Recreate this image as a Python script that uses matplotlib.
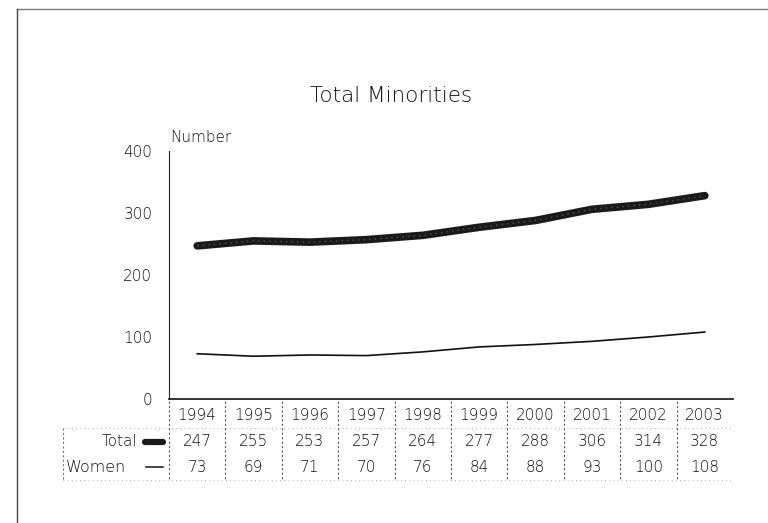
import matplotlib
matplotlib.use("Agg")
from matplotlib import pyplot as plt
from matplotlib.lines import Line2D
from matplotlib.transforms import blended_transform_factory
import numpy as np

years = ["1994", "1995", "1996", "1997", "1998", "1999", "2000", "2001", "2002", "2003"]
total = [247, 255, 253, 257, 264, 277, 288, 306, 314, 328]
women = [73, 69, 71, 70, 76, 84, 88, 93, 100, 108]

plt.rcParams['font.family'] = ['DejaVu Sans']
plt.rcParams['font.weight'] = 'light'
txt = "#111111"

W, H = 768, 523
fig = plt.figure(figsize=(W / 100, H / 100), dpi=100)
ax = fig.add_axes([169 / W, 1 - 399 / H, (733 - 169) / W, (399 - 151) / H])

x = np.arange(len(years))
# thick total line (dark edge, speckled core) and thin women line
ax.plot(x, total, color="#1a1a1a", lw=5.5, solid_capstyle="round")
ax.plot(x, total, color="#555555", lw=1.0, ls=(0, (1, 3)))
ax.plot(x, women, color="#111111", lw=1.2)

ax.set_xlim(-0.5, len(years) - 0.5)
ax.set_ylim(0, 400)
ax.set_yticks([0, 100, 200, 300, 400])
ax.tick_params(axis="y", length=0, pad=12, labelsize=11, colors=txt)
ax.set_xticks([])
for s in ["top", "right"]:
    ax.spines[s].set_visible(False)
ax.spines["left"].set_color("#222222")
ax.spines["bottom"].set_color("#222222")
ax.spines["bottom"].set_linewidth(1.3)

fig.text(391 / W, 1 - 96 / H, "Total Minorities", ha="center", va="center",
         fontsize=15.5, color=txt)
fig.text(170 / W, 1 - 137 / H, "Number", ha="left", va="center",
         fontsize=11, color=txt)

# data table under the axis
tr = blended_transform_factory(ax.transData, fig.transFigure)
y_head, y_tot, y_wom = 1 - 415 / H, 1 - 442 / H, 1 - 467 / H
for i, yr in enumerate(years):
    fig.text(i, y_head, yr, transform=tr, ha="center", va="center", fontsize=11, color=txt)
    fig.text(i, y_tot, str(total[i]), transform=tr, ha="center", va="center", fontsize=11, color=txt)
    fig.text(i, y_wom, str(women[i]), transform=tr, ha="center", va="center", fontsize=11, color=txt)

fig.text(137 / W, y_tot, "Total", ha="right", va="center", fontsize=11, color=txt)
fig.text(66 / W, y_wom, "Women", ha="left", va="center", fontsize=11.5, color=txt)
fig.add_artist(Line2D([145 / W, 163 / W], [y_tot, y_tot], transform=fig.transFigure,
                      color="#1a1a1a", lw=4.5, solid_capstyle="round"))
fig.add_artist(Line2D([146 / W, 163 / W], [y_wom, y_wom], transform=fig.transFigure,
                      color="#111111", lw=1.1))

# table grid lines
y_top, y_bot, y_sep = 1 - 401 / H, 1 - 480 / H, 1 - 428 / H
for i in range(len(years)):
    fig.add_artist(Line2D([i - 0.5, i - 0.5], [y_top, y_bot], transform=tr,
                          color="#555555", lw=0.8, ls=(0, (2, 2))))
fig.add_artist(Line2D([63 / W, 63 / W], [y_sep, y_bot], transform=fig.transFigure,
                      color="#777777", lw=0.8, ls=(0, (2, 2))))
fig.add_artist(Line2D([63 / W, 733 / W], [y_sep, y_sep], transform=fig.transFigure,
                      color="#999999", lw=0.6, ls=(0, (1, 4))))
fig.add_artist(Line2D([63 / W, 733 / W], [y_bot, y_bot], transform=fig.transFigure,
                      color="#999999", lw=0.6, ls=(0, (1, 4))))

# outer frame (scanned page edge)
fig.add_artist(Line2D([17 / W, 768 / W], [1 - 9 / H, 1 - 9 / H], transform=fig.transFigure,
                      color="#777777", lw=1.0))
fig.add_artist(Line2D([17 / W, 17 / W], [1 - 9 / H, 0], transform=fig.transFigure,
                      color="#444444", lw=1.0))

fig.savefig("out.png", dpi=100)
